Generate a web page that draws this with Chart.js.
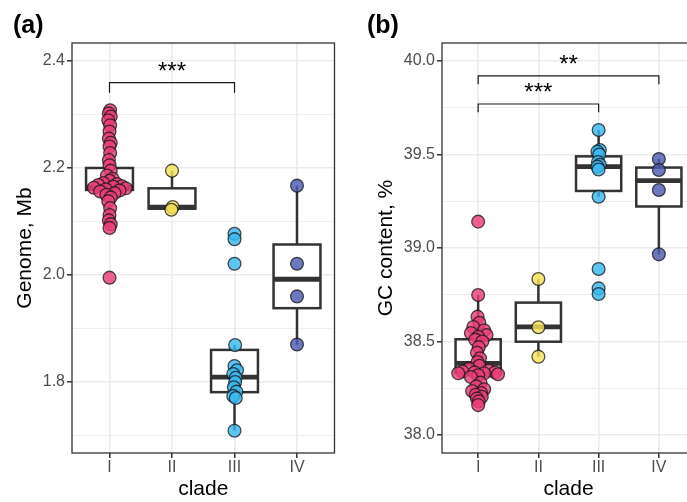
<!DOCTYPE html>
<html><head><meta charset="utf-8">
<script src="https://cdn.jsdelivr.net/npm/chart.js@4.4.0/dist/chart.umd.min.js"></script>
<style>
html,body{margin:0;padding:0;background:#fff;overflow:hidden;width:687px;height:502px;}
#wrap{position:relative;width:687px;height:502px;overflow:hidden;background:#fff;}
.pl{position:absolute;font-family:"Liberation Sans",Arial,sans-serif;font-weight:bold;font-size:25px;color:#000;line-height:1;}
#ca{position:absolute;left:0;top:0;}
#cb{position:absolute;left:345px;top:0;}
</style></head><body>
<div id="wrap">
<canvas id="ca" width="345" height="502"></canvas>
<canvas id="cb" width="360" height="502"></canvas>
<div class="pl" style="left:13px;top:12px">(a)</div>
<div class="pl" style="left:367px;top:12px">(b)</div>
</div>
<script>
// ---------- data ----------
const clades = ['I', 'II', 'III', 'IV'];
const cladeColors = ['rgba(233,62,120,0.82)', 'rgba(244,226,90,0.82)', 'rgba(58,184,240,0.82)', 'rgba(78,90,176,0.82)'];

// Panel (a): genome size, Mb
const genomeI = [2.308, 2.302, 2.296, 2.289, 2.28, 2.268, 2.255, 2.247, 2.24, 2.228, 2.215, 2.205, 2.195, 2.186, 2.18, 2.176, 2.172, 2.17, 2.168, 2.166, 2.165, 2.163, 2.162, 2.16, 2.158, 2.156, 2.153, 2.15, 2.145, 2.138, 2.125, 2.112, 2.102, 2.095, 2.088, 1.995];
const genomeII = [2.195, 2.127, 2.122];
const genomeIII = [2.077, 2.067, 2.021, 1.869, 1.830, 1.822, 1.815, 1.808, 1.800, 1.790, 1.782, 1.774, 1.770, 1.709];
const genomeIV = [2.167, 2.021, 1.960, 1.870];
const genomeQ1 = [2.159, 2.124, 1.781, 1.938];
const genomeMed = [2.164, 2.127, 1.809, 1.992];
const genomeQ3 = [2.200, 2.162, 1.860, 2.057];
const genomeLo = [2.088, 2.122, 1.709, 1.870];
const genomeHi = [2.308, 2.195, 1.869, 2.167];
const genomeTicks = [1.7, 1.8, 1.9, 2.0, 2.1, 2.2, 2.3, 2.4];
const genomeTickLabels = ['', '1.8', '', '2.0', '', '2.2', '', '2.4'];

// Panel (b): GC content, %
const gcI = [39.141, 38.749, 38.633, 38.60, 38.578, 38.56, 38.545, 38.535, 38.525, 38.51, 38.50, 38.47, 38.44, 38.41, 38.39, 38.37, 38.355, 38.345, 38.34, 38.335, 38.335, 38.33, 38.33, 38.325, 38.32, 38.31, 38.28, 38.26, 38.245, 38.235, 38.225, 38.215, 38.205, 38.195, 38.18, 38.16];
const gcII = [38.834, 38.576, 38.419];
const gcIII = [39.631, 39.524, 39.515, 39.50, 39.46, 39.445, 39.435, 39.42, 39.274, 38.888, 38.784, 38.754];
const gcIV = [39.476, 39.417, 39.31, 38.966];
const gcQ1 = [38.333, 38.499, 39.305, 39.222];
const gcMed = [38.383, 38.578, 39.435, 39.36];
const gcQ3 = [38.512, 38.708, 39.490, 39.430];
const gcLo = [38.16, 38.419, 39.274, 38.966];
const gcHi = [38.749, 38.834, 39.631, 39.476];
const gcTicks = [38.0, 38.25, 38.5, 38.75, 39.0, 39.25, 39.5, 39.75, 40.0];
const gcTickLabels = ['38.0', '', '38.5', '', '39.0', '', '39.5', '', '40.0'];

// horizontal jitter of points (category units)
const jitGenomeI = [0.01, -0.01, 0.02, -0.02, 0.01, 0.0, -0.01, 0.02, 0.0, 0.01, -0.01, 0.0, 0.02, -0.04, 0.05, 0.0, -0.1, 0.12, -0.18, 0.2, 0.06, -0.25, 0.26, -0.06, 0.16, -0.15, 0.08, -0.05, 0.02, -0.02, 0.01, 0.0, -0.01, 0.02, 0.0, 0.0];
const jitGenomeII = [0, 0.01, -0.01];
const jitGenomeIII = [0.0, 0.0, 0.0, 0.01, 0.0, 0.04, -0.02, 0.02, 0.01, -0.01, 0.03, -0.02, 0.02, 0.0];
const jitGenomeIV = [0, 0, 0, 0];
const jitGcI = [0, 0, -0.01, 0.02, -0.08, 0.1, -0.12, 0.14, 0.0, -0.05, 0.07, 0.01, -0.02, 0.03, -0.01, 0.02, -0.15, 0.18, -0.26, 0.28, -0.06, 0.1, -0.33, 0.33, 0.0, -0.12, 0.04, -0.03, 0.1, -0.1, 0.05, -0.04, 0.06, -0.02, 0.01, 0.0];
const jitGcII = [0, 0, 0];
const jitGcIII = [0.0, 0.02, -0.02, 0.01, -0.01, 0.02, -0.02, 0.0, 0.0, 0.0, 0.0, 0.0];
const jitGcIV = [0, 0, 0, 0];

// significance brackets
const genomeSigFrom = [1], genomeSigTo = [3], genomeSigY = [2.3596], genomeSigTip = [2.3407], genomeSigText = ['***'];
const gcSigFrom = [1, 1], gcSigTo = [4, 3], gcSigY = [39.92, 39.77], gcSigTip = [39.875, 39.726], gcSigText = ['**', '***'];

// ---------- drawing ----------
const FONT = '"Liberation Sans", Arial, sans-serif';

function makePanel(canvasId, o) {
  const groups = [o.vI, o.vII, o.vIII, o.vIV];
  const jits = [o.jI, o.jII, o.jIII, o.jIV];
  const datasets = groups.map((vals, k) => ({
    data: vals.map((v, i) => ({ x: k + 1 + jits[k][i], y: v })),
    backgroundColor: cladeColors[k],
    borderColor: 'rgba(20,20,20,0.75)',
    pointRadius: 6.4,
    pointHoverRadius: 6.4,
    pointBorderWidth: 1.3,
    showLine: false
  }));
  const isMajor = (i) => o.tickLabels[i] !== '';

  const boxPlugin = {
    id: 'boxes',
    beforeDatasetsDraw(chart) {
      const { ctx, scales: { x, y }, chartArea: a } = chart;
      ctx.save();
      ctx.beginPath(); ctx.rect(a.left, a.top, a.right - a.left, a.bottom - a.top); ctx.clip();
      ctx.strokeStyle = '#333333';
      for (let k = 0; k < 4; k++) {
        const cx = x.getPixelForValue(k + 1);
        const l = x.getPixelForValue(k + 1 - 0.375), r = x.getPixelForValue(k + 1 + 0.375);
        const pq1 = y.getPixelForValue(o.q1[k]), pq3 = y.getPixelForValue(o.q3[k]);
        const pm = y.getPixelForValue(o.med[k]);
        const plo = y.getPixelForValue(o.lo[k]), phi = y.getPixelForValue(o.hi[k]);
        ctx.lineWidth = 2.5;
        ctx.beginPath();
        ctx.moveTo(cx, phi); ctx.lineTo(cx, pq3);
        ctx.moveTo(cx, pq1); ctx.lineTo(cx, plo);
        ctx.stroke();
        ctx.fillStyle = '#ffffff';
        ctx.fillRect(l, pq3, r - l, pq1 - pq3);
        ctx.strokeRect(l, pq3, r - l, pq1 - pq3);
        ctx.lineWidth = 4.8;
        ctx.beginPath(); ctx.moveTo(l, pm); ctx.lineTo(r, pm); ctx.stroke();
      }
      ctx.restore();
    },
    afterDatasetsDraw(chart) {
      const { ctx, scales: { x, y } } = chart;
      ctx.save();
      ctx.strokeStyle = '#1a1a1a';
      ctx.lineWidth = 1.2;
      ctx.fillStyle = '#000';
      ctx.font = '24px ' + FONT;
      ctx.textAlign = 'center';
      ctx.textBaseline = 'alphabetic';
      for (let i = 0; i < o.sigFrom.length; i++) {
        const x1 = x.getPixelForValue(o.sigFrom[i]), x2 = x.getPixelForValue(o.sigTo[i]);
        const py = y.getPixelForValue(o.sigY[i]), pt = y.getPixelForValue(o.sigTip[i]);
        ctx.beginPath();
        ctx.moveTo(x1, pt); ctx.lineTo(x1, py); ctx.lineTo(x2, py); ctx.lineTo(x2, pt);
        ctx.stroke();
        ctx.fillText(o.sigText[i], (x1 + x2) / 2, py - 4);
      }
      ctx.restore();
    },
    afterDraw(chart) {
      const { ctx, chartArea: a } = chart;
      ctx.save();
      ctx.strokeStyle = '#333333';
      ctx.lineWidth = 1.3;
      ctx.strokeRect(a.left, a.top, a.right - a.left, a.bottom - a.top);
      ctx.restore();
    }
  };

  return new Chart(document.getElementById(canvasId), {
    type: 'scatter',
    data: { datasets },
    plugins: [boxPlugin],
    options: {
      responsive: false,
      animation: false,
      events: [],
      layout: { padding: { top: 43, left: 0, right: o.padRight, bottom: 0 } },
      plugins: { legend: { display: false }, tooltip: { enabled: false } },
      scales: {
        x: {
          type: 'linear', min: 0.4, max: 4.6,
          afterBuildTicks: (s) => { s.ticks = [1, 2, 3, 4].map(v => ({ value: v })); },
          afterFit: (s) => { s.height = 49; },
          border: { display: false },
          grid: { color: '#EBEBEB', lineWidth: 1.6, drawTicks: true, tickLength: 5, tickColor: '#333333', tickWidth: 1.5 },
          ticks: { padding: 0, color: '#4D4D4D', font: { family: FONT, size: 16 }, callback: (v, i) => clades[i], maxRotation: 0, autoSkip: false },
          title: { display: true, text: 'clade', color: '#000', font: { family: FONT, size: 21 }, padding: { top: 0, bottom: 0 } }
        },
        y: {
          type: 'linear', min: o.yMin, max: o.yMax,
          afterBuildTicks: (s) => { s.ticks = o.ticks.map(v => ({ value: v })); },
          afterFit: (s) => { s.width = o.yWidth; },
          border: { display: false },
          grid: {
            color: '#EBEBEB',
            lineWidth: (c) => isMajor(c.index) ? 1.6 : 0.8,
            drawTicks: true, tickLength: 5,
            tickColor: (c) => isMajor(c.index) ? '#333333' : 'rgba(0,0,0,0)',
            tickWidth: 1.5
          },
          ticks: { padding: 2, color: '#4D4D4D', font: { family: FONT, size: 16 }, callback: (v, i) => o.tickLabels[i], autoSkip: false },
          title: { display: true, text: o.yTitle, color: '#000', font: { family: FONT, size: 21 }, padding: { top: o.titlePad, bottom: 0 } }
        }
      }
    }
  });
}

makePanel('ca', {
  vI: genomeI, vII: genomeII, vIII: genomeIII, vIV: genomeIV,
  jI: jitGenomeI, jII: jitGenomeII, jIII: jitGenomeIII, jIV: jitGenomeIV,
  q1: genomeQ1, med: genomeMed, q3: genomeQ3, lo: genomeLo, hi: genomeHi,
  ticks: genomeTicks, tickLabels: genomeTickLabels,
  sigFrom: genomeSigFrom, sigTo: genomeSigTo, sigY: genomeSigY, sigTip: genomeSigTip, sigText: genomeSigText,
  yMin: 1.6673, yMax: 2.4336, yWidth: 72, padRight: 10.5, titlePad: 13, yTitle: 'Genome, Mb'
});
makePanel('cb', {
  vI: gcI, vII: gcII, vIII: gcIII, vIV: gcIV,
  jI: jitGcI, jII: jitGcII, jIII: jitGcIII, jIV: jitGcIV,
  q1: gcQ1, med: gcMed, q3: gcQ3, lo: gcLo, hi: gcHi,
  ticks: gcTicks, tickLabels: gcTickLabels,
  sigFrom: gcSigFrom, sigTo: gcSigTo, sigY: gcSigY, sigTip: gcSigTip, sigText: gcSigText,
  yMin: 37.904, yMax: 40.096, yWidth: 97, padRight: 10, titlePad: 29, yTitle: 'GC content, %'
});
</script>
</body></html>
